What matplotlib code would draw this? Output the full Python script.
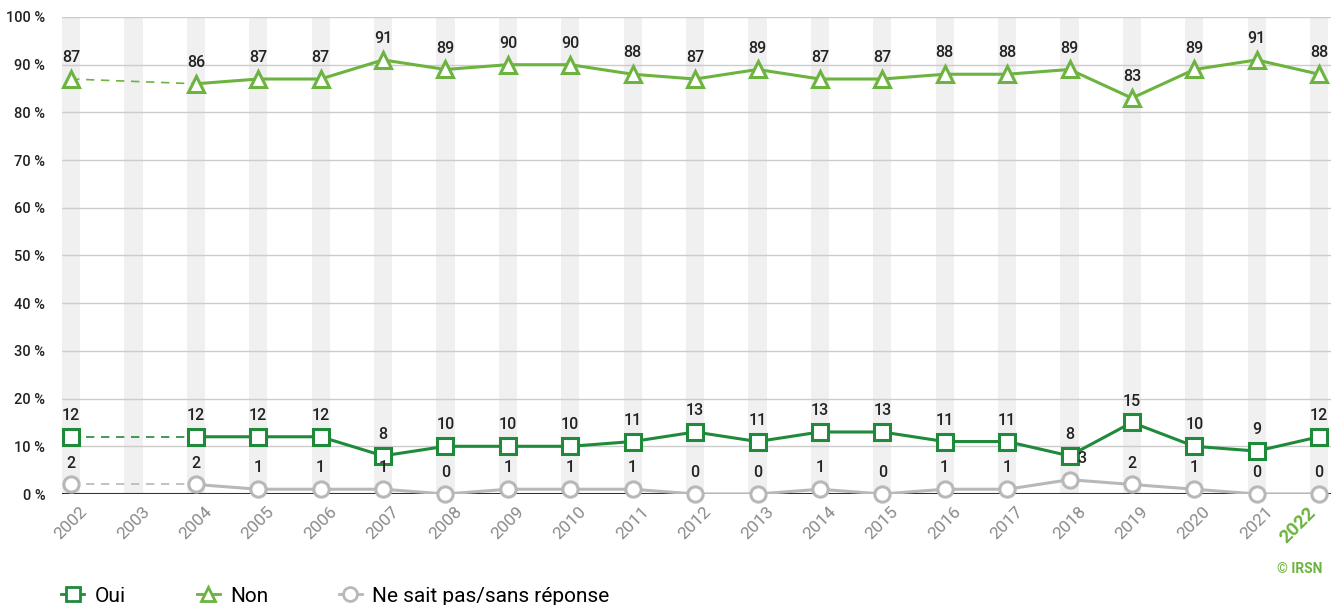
import matplotlib.pyplot as plt
import matplotlib.transforms as mtransforms
from matplotlib.lines import Line2D

plt.rcParams['font.family'] = ['Roboto', 'DejaVu Sans']

years = ["2002", "2003", "2004", "2005", "2006", "2007", "2008", "2009", "2010", "2011",
         "2012", "2013", "2014", "2015", "2016", "2017", "2018", "2019", "2020", "2021", "2022"]
# 2003 has no survey: None
oui = [12, None, 12, 12, 12, 8, 10, 10, 10, 11, 13, 11, 13, 13, 11, 11, 8, 15, 10, 9, 12]
non = [87, None, 86, 87, 87, 91, 89, 90, 90, 88, 87, 89, 87, 87, 88, 88, 89, 83, 89, 91, 88]
nsp = [2, None, 2, 1, 1, 1, 0, 1, 1, 1, 0, 0, 1, 0, 1, 1, 3, 2, 1, 0, 0]
yticks = [0, 10, 20, 30, 40, 50, 60, 70, 80, 90, 100]

c_oui = "#1f8a3a"
c_non = "#6cb33f"
c_nsp = "#b8b8b8"


def draw_series(ax, vals, color, marker, label_dx=None):
    xs = [i for i, v in enumerate(vals) if v is not None]
    ys = [vals[i] for i in xs]
    # dashed link over the missing year
    ax.plot(xs[:2], ys[:2], color=color, lw=1.2, ls=(0, (5, 4)), zorder=3)
    ax.plot(xs[1:], ys[1:], color=color, lw=2.2, zorder=3)
    ax.plot(xs, ys, ls="none", marker=marker, ms=11, mfc="white", mec=color,
            mew=2.2, zorder=4, clip_on=False)
    for x, y in zip(xs, ys):
        dx = 0
        if label_dx and x in label_dx:
            dx = label_dx[x]
        ax.annotate(str(y), (x, y), xytext=(dx, 10), textcoords="offset points",
                    ha="center", va="bottom", fontsize=11.5, fontweight="medium",
                    color="#222222", zorder=5)


fig = plt.figure(figsize=(13.31, 6.05), dpi=100)
ax = fig.add_axes([62 / 1331, 1 - 494 / 605, 1269 / 1331, 477 / 605])

n = len(years)
for i in range(n):
    ax.axvspan(i - 0.145, i + 0.145, color="#f0f0f0", zorder=0, lw=0)

for t in yticks[1:]:
    ax.axhline(t, color="#cccccc", lw=1, zorder=1)
ax.axhline(0, color="#333333", lw=1.5, zorder=2)

draw_series(ax, nsp, c_nsp, "o", label_dx={16: 9})
draw_series(ax, oui, c_oui, "s")
draw_series(ax, non, c_non, "^")

ax.set_xlim(-0.145, 20.19)
ax.set_ylim(0, 100)
ax.set_yticks(yticks)
ax.set_yticklabels([f"{t} %" for t in yticks], fontsize=10.5, fontweight="medium", color="#222222")
ax.set_xticks(range(n))
ax.set_xticklabels(years, rotation=45, ha="center", va="top",
                   fontsize=12.5, color="#8a8a8a")
last = ax.get_xticklabels()[-1]
last.set_color(c_non)
last.set_fontweight("bold")
last.set_fontsize(13.5)
last.set_ha("right")
last.set_transform(last.get_transform() + mtransforms.ScaledTranslation(7 / 100, 0, fig.dpi_scale_trans))
ax.tick_params(length=0)
ax.tick_params(axis="y", pad=12)
ax.tick_params(axis="x", pad=7)
for s in ax.spines.values():
    s.set_visible(False)

fig.text(1322 / 1331, 1 - 569 / 605, "© IRSN", ha="right", va="center",
         fontsize=10, fontweight="bold", color=c_non)

handles = [
    Line2D([], [], color=c_oui, marker="s", ms=10, mfc="white", mew=2, lw=2),
    Line2D([], [], color=c_non, marker="^", ms=10, mfc="white", mew=2, lw=2),
    Line2D([], [], color=c_nsp, marker="o", ms=10, mfc="white", mew=2, lw=2),
]
fig.legend(handles, ["Oui", "Non", "Ne sait pas/sans réponse"], loc="center left",
           bbox_to_anchor=(0.032, 1 - 596 / 605), ncol=3, frameon=False,
           fontsize=15, handlelength=1.1, columnspacing=3.4, handletextpad=0.5)

fig.savefig("out.png", dpi=100)
